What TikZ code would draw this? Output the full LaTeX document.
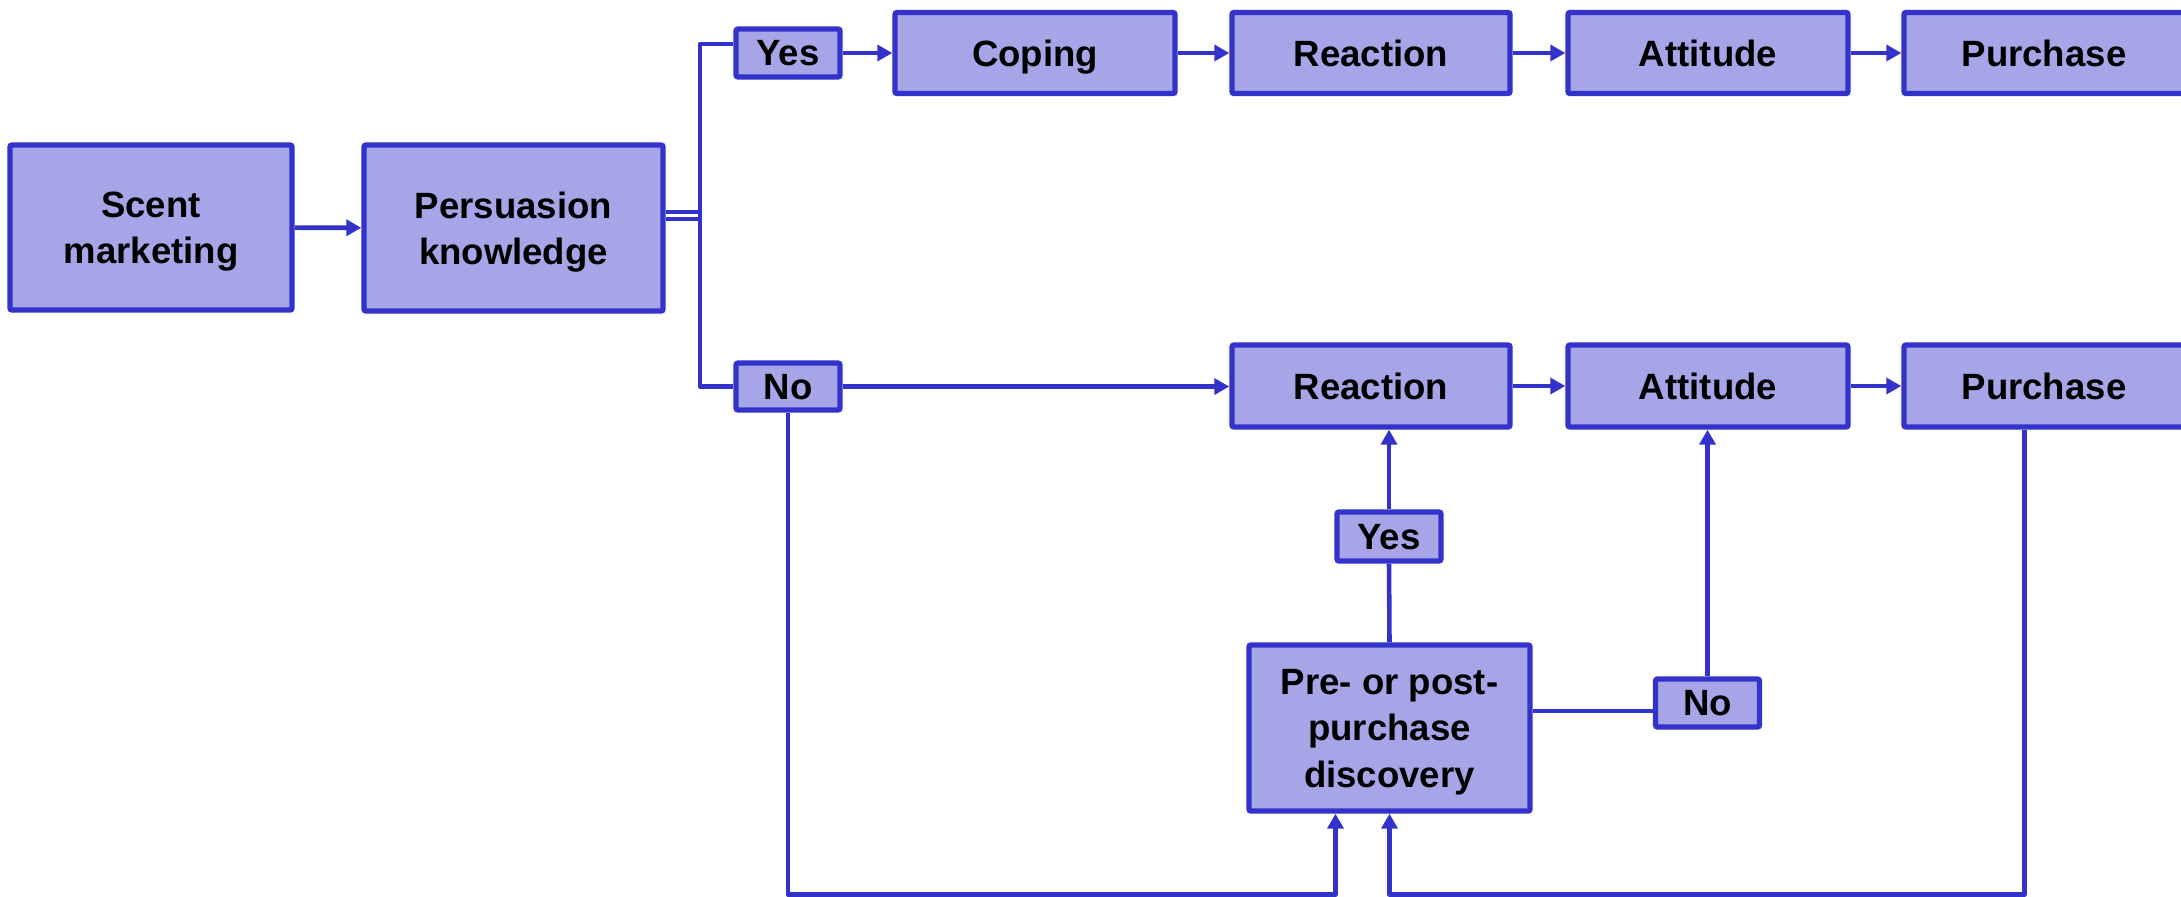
\documentclass[tikz,border=0pt]{standalone}
\usepackage{fontspec}
\setmainfont{Liberation Sans}
\usetikzlibrary{arrows.meta,calc}
\definecolor{boxfill}{RGB}{165,165,232}
\definecolor{boxline}{RGB}{51,51,204}
\tikzset{
  box/.style={draw=boxline, fill=boxfill, line width=1.5pt, inner sep=0pt,
    align=center, rounded corners=0.6pt, text depth=0pt,
    font=\fontsize{10.4}{13.2}\selectfont\bfseries},
  conn/.style={draw=boxline, line width=1.3pt, line join=round},
  arr/.style={conn, -{Triangle[length=0.15cm,width=0.16cm]}},
  dbl/.style={draw=boxline, line width=1.2pt, double=white, double distance=0.03cm}
}
\begin{document}
\begin{tikzpicture}[x=0.01cm, y=-0.01cm]
\useasboundingbox (0,0) rectangle (2181,896);
\clip (0,0) rectangle (2181,896);
% nodes
\node[box, minimum width=2.82cm, minimum height=1.65cm] (scent) at (151,227.5) {Scent\\marketing};
\node[box, minimum width=2.99cm, minimum height=1.66cm] (pers) at (513.5,228) {Persuasion\\knowledge};
\node[box, minimum width=1.04cm, minimum height=0.48cm] (yesT) at (788,53) {Yes};
\node[box, minimum width=1.04cm, minimum height=0.47cm] (noT) at (788,386.5) {No};
\node[box, minimum width=2.80cm, minimum height=0.81cm] (coping) at (1035,53) {Coping};
\node[box, minimum width=2.78cm, minimum height=0.81cm] (reactT) at (1371,53) {Reaction};
\node[box, minimum width=2.80cm, minimum height=0.81cm] (attT) at (1708,53) {Attitude};
\node[box, minimum width=2.80cm, minimum height=0.81cm] (purT) at (2044,53) {Purchase};
\node[box, minimum width=2.78cm, minimum height=0.82cm] (reactB) at (1371,386) {Reaction};
\node[box, minimum width=2.80cm, minimum height=0.82cm] (attB) at (1708,386) {Attitude};
\node[box, minimum width=2.80cm, minimum height=0.82cm] (purB) at (2044,386) {Purchase};
\node[box, minimum width=1.04cm, minimum height=0.49cm] (yesB) at (1389,536.5) {Yes};
\node[box, minimum width=1.04cm, minimum height=0.48cm] (noB) at (1707.5,703) {No};
\node[box, minimum width=2.81cm, minimum height=1.66cm] (pre) at (1389.5,728) {Pre- or post-\\purchase\\discovery};
\coordinate (split) at (700,215.5);
% connectors
\draw[arr] (scent) -- (pers);
\draw[dbl] (pers.east |- split) -- (split);
\draw[conn] ($(yesT.west)+(0,-9)$) -| (split) |- (noT.west);
\draw[arr] (yesT) -- (coping);
\draw[arr] (coping) -- (reactT);
\draw[arr] (reactT) -- (attT);
\draw[arr] (attT) -- (purT);
\draw[arr] (noT.east) -- (reactB.west |- noT.east);
\draw[arr] (reactB) -- (attB);
\draw[arr] (attB) -- (purB);
\draw[conn] (pre.north) -- (yesB.south);
\draw[arr] (yesB.north) -- (yesB.north |- reactB.south);
\draw[conn] ($(pre.east)+(0,-17)$) -- ($(noB.west)+(0,8)$);
\draw[arr] (noB.north) -- (noB.north |- attB.south);
\draw[arr] (noT.south) |- ($(pre.south)+(-54,81)$) -- ($(pre.south)+(-54,0)$);
\draw[arr] ($(purB.south)+(-19.5,0)$) |- ($(pre.south)+(0,81)$) -- (pre.south);
\end{tikzpicture}
\end{document}
